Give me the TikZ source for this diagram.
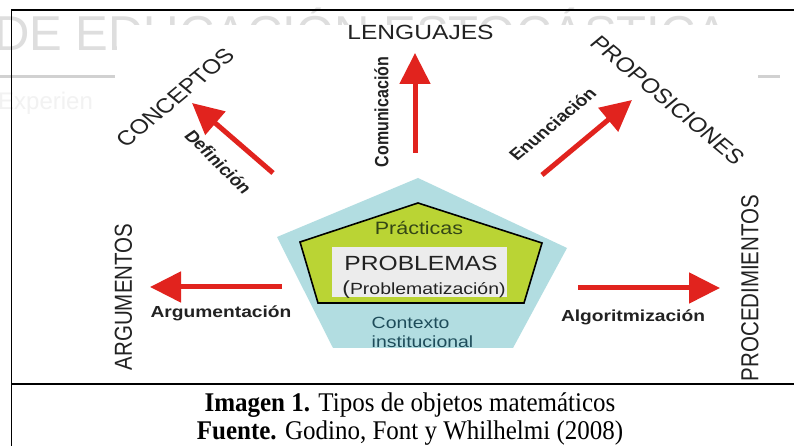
\documentclass[tikz,border=0pt]{standalone}
\usepackage{fontspec}
\setmainfont{Liberation Serif}
\newfontfamily\arialfont{Liberation Sans}
\usetikzlibrary{arrows.meta}
\definecolor{rojo}{RGB}{225,35,30}
\definecolor{celeste}{RGB}{178,221,225}
\definecolor{verde}{RGB}{186,212,52}
\definecolor{cajagris}{RGB}{236,236,236}
\definecolor{tinta}{RGB}{34,34,34}
\definecolor{oliva}{RGB}{52,70,22}
\definecolor{petroleo}{RGB}{30,76,90}
\begin{document}
\begin{tikzpicture}[x=1pt,y=1pt]

      \tikzset{objeto/.style={font=\arialfont\fontsize{20.5}{24}\selectfont, text=tinta, inner sep=0pt, xscale=1.2},
               proceso/.style={font=\arialfont\bfseries\fontsize{16}{19}\selectfont, text=tinta, inner sep=0pt, xscale=1.2},
               interior/.style={font=\arialfont\fontsize{16.2}{19.5}\selectfont, inner sep=0pt, xscale=1.2},
               flecha/.style={draw=rojo, line width=5pt, -{Triangle[length=31pt, width=30pt, fill=rojo]}},
               pie/.style={font=\fontsize{25}{29}\selectfont, inner sep=0pt, yscale=1.08}}
      \useasboundingbox (0,0) rectangle (794,446);
      \fill[white] (0,0) rectangle (794,446);
%% Fondo
      	\node[anchor=base west, font=\arialfont\fontsize{49}{49}\selectfont, text=black!13, inner sep=0pt] (marca) at (-6,395) {DE EDUCACIÓN ESTOCÁSTICA};
      	\node[anchor=base west, font=\arialfont\fontsize{24}{24}\selectfont, text=black!5, inner sep=0pt] (experien) at (-2,336) {Experien};
      	\draw[black!18, line width=3pt] (0,369) -- (115,369);
      	\draw[black!18, line width=3pt] (758,369) -- (780,369);
      	\fill[white] (117,62) rectangle (745,421);
%% Pentagonos
      	\coordinate (e1) at (418,268);
      	\coordinate (e2) at (567,198);
      	\coordinate (e3) at (513,98);
      	\coordinate (e4) at (333,98);
      	\coordinate (e5) at (277,209);
      	\fill[celeste] (e1) -- (e2) -- (e3) -- (e4) -- (e5) -- cycle;
      	\coordinate (i1) at (418,243);
      	\coordinate (i2) at (542,203);
      	\coordinate (i3) at (524,143);
      	\coordinate (i4) at (318,143);
      	\coordinate (i5) at (300,204);
      	\filldraw[fill=verde, draw=black, line width=1.6pt] (i1) -- (i2) -- (i3) -- (i4) -- (i5) -- cycle;
      	\node[fill=cajagris, minimum width=175pt, minimum height=50pt, inner sep=0pt] (caja) at (419.5,174) {};
%% Textos interiores
      	\node[interior, text=oliva, font=\arialfont\fontsize{17.9}{21}\selectfont] (practicas) at (419,217.5) {Prácticas};
      	\node[interior, text=tinta, font=\arialfont\fontsize{20.5}{24}\selectfont] (problemas) at (421,182.5) {PROBLEMAS};
      	\node[interior, text=tinta] (problematizacion) at (424,156.5) {{\fontsize{19}{19}\selectfont(}Problematización)};
      	\node[interior, text=petroleo, align=left] (contexto) at (422.5,113.5) {Contexto\\institucional};
%% Objetos
      	\node[objeto] (lenguajes) at (420.5,413.5) {LENGUAJES};
      	\node[objeto, rotate=45] (conceptos) at (175,348.5) {CONCEPTOS};
      	\node[objeto, rotate=-45] (proposiciones) at (667.5,346) {PROPOSICIONES};
      	\node[objeto, rotate=90] (argumentos) at (123.5,149) {ARGUMENTOS};
      	\node[objeto, rotate=90] (procedimientos) at (750,158) {PROCEDIMIENTOS};
%% Procesos
      	\node[proceso, rotate=90] (comunicacion) at (381.5,334) {Comunicación};
      	\node[proceso, rotate=-50] (definicion) at (218.5,284) {Definición};
      	\node[proceso, rotate=45] (enunciacion) at (552.5,322) {Enunciación};
      	\node[proceso] (argumentacion) at (221,133) {Argumentación};
      	\node[proceso] (algoritmizacion) at (633,129) {Algoritmización};
%Flechas
      	\coordinate (lenC) at (415,293);  \coordinate (lenF) at (415,393);
      	\coordinate (conC) at (273,273);  \coordinate (conF) at (192,343);
      	\coordinate (proC) at (542,271);  \coordinate (proF) at (632,346);
      	\coordinate (argC) at (282,159);  \coordinate (argF) at (150,159);
      	\coordinate (algC) at (578,158);  \coordinate (algF) at (720,158);
		\path (lenC) edge[flecha] (lenF);
		\path (conC) edge[flecha] (conF);
		\path (proC) edge[flecha] (proF);
		\path (argC) edge[flecha] (argF);
		\path (algC) edge[flecha] (algF);
%% Marco y pie
      	\draw[line width=1.5pt] (11.5,0) -- (11.5,436) -- (794,436);
      	\draw[line width=1.5pt] (11.5,62) -- (794,62);
      	\node[pie, anchor=base] (imagen) at (410,34) {\textbf{Imagen 1.} Tipos de objetos matemáticos};
      	\node[pie, anchor=base] (fuente) at (410,6) {\textbf{Fuente.} Godino, Font y Whilhelmi (2008)};

	\end{tikzpicture}
\end{document}
